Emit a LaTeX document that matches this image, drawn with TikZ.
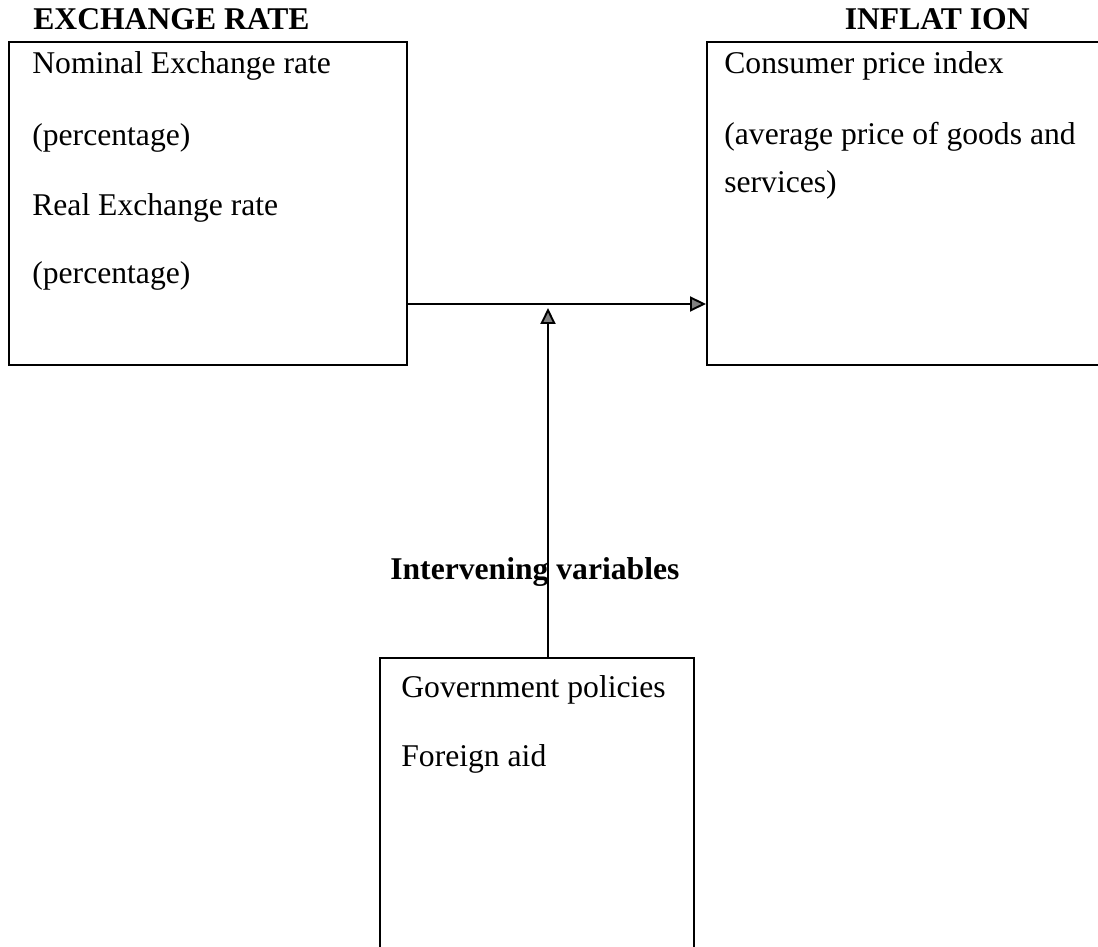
\documentclass[tikz,border=0pt]{standalone}
\usepackage{fontspec}
\setmainfont{Liberation Serif}
\usepackage{tikz}
\usetikzlibrary{arrows.meta,positioning,calc}

\begin{document}
\begin{tikzpicture}[
  box/.style={draw, line width=1.1pt, inner sep=0pt},
  flow/.style={line width=1.1pt,
    -{Triangle[length=0.32cm, width=0.3cm, fill=gray]}},
  txt/.style={anchor=base west, inner sep=0pt, font=\fontsize{18}{21}\selectfont},
  head/.style={txt, font=\fontsize{18}{21}\selectfont\bfseries}
]
\useasboundingbox (0,0) rectangle (21.96,18.94);
\clip (0,0) rectangle (21.96,18.94);

% the three boxes
\node[box, minimum width=7.96cm, minimum height=6.46cm] (exch) at (4.16,14.87) {};
\node[box, minimum width=8.26cm, minimum height=6.46cm] (infl) at (18.27,14.87) {};
\node[box, minimum width=6.28cm, minimum height=6.38cm] (gov) at (10.74,2.59) {};

% headings
\node[head] (exchhead) at (0.66,18.34) {EXCHANGE RATE};
\node[head, anchor=base east] (inflhead) at (20.6,18.34) {INFLAT ION};

% exchange rate box
\node[txt] (nom) at (0.64,17.46) {Nominal Exchange rate};
\node[txt] (nompct) at (0.64,16.02) {(percentage)};
\node[txt] (real) at (0.64,14.62) {Real Exchange rate};
\node[txt] (realpct) at (0.64,13.26) {(percentage)};

% inflation box
\node[txt] (cpi) at (14.48,17.46) {Consumer price index};
\node[txt] (cpidesc) at (14.48,16.04) {(average price of goods and};
\node[txt] (cpidesc2) at (14.48,15.08) {services)};

% intervening box
\node[txt] (pol) at (8.02,4.98) {Government policies};
\node[txt] (aid) at (8.02,3.60) {Foreign aid};
\node[head] (interv) at (7.80,7.34) {Intervening variables};

% arrows
\coordinate (join) at (10.96,12.86);
\draw[flow] (exch.east |- join) -- (infl.west |- join);
\draw[flow] (gov.north -| join) -- ([yshift=-0.08cm]join);

\end{tikzpicture}
\end{document}
